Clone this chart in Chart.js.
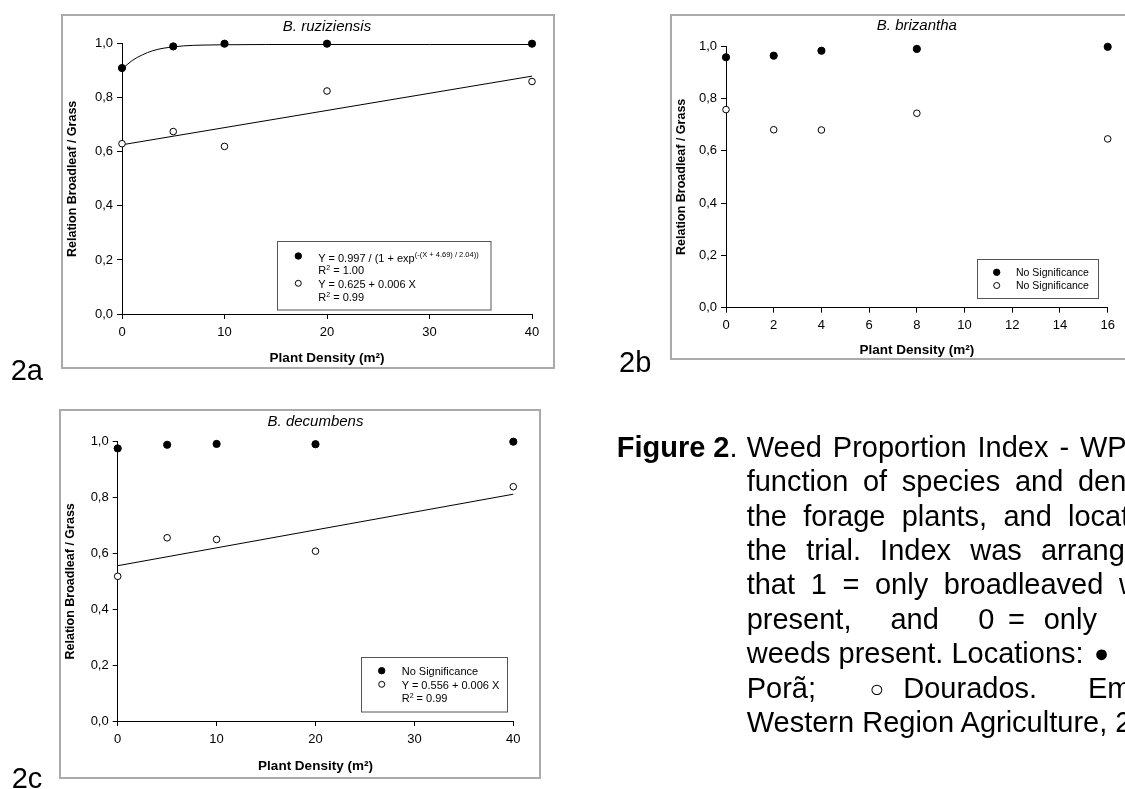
<!DOCTYPE html>
<html>
<head>
<meta charset="utf-8">
<title>Figure 2 – Weed Proportion Index</title>
<script src="https://cdn.jsdelivr.net/npm/chart.js@4/dist/chart.umd.min.js"></script>
<style>
  html, body { margin:0; padding:0; background:#fff; }
  body { width:1125px; height:789px; overflow:hidden; position:relative; font-family:"Liberation Sans", Arial, sans-serif; }
  .panel { position:absolute; box-sizing:border-box; border:2px solid #aaaaaa; background:#fff; z-index:1; }
  .panel canvas { position:absolute; left:0; top:0; }
  #overlay { position:absolute; left:0; top:0; pointer-events:none; z-index:2; }
</style>
</head>
<body>
<svg id="overlay" width="1125" height="789" xmlns="http://www.w3.org/2000/svg"></svg>
<script>
// ---------------- DATA ----------------
const yTicks = [0, 0.2, 0.4, 0.6, 0.8, 1.0];
const yAxisTitle = 'Relation Broadleaf / Grass';
const xAxisTitle = 'Plant Density (m\u00B2)';

// 2a – B. ruziziensis
const ruzTitle = 'B. ruziziensis';
const ruzXTicks = [0, 10, 20, 30, 40];
const ruzDensity = [0, 5, 10, 20, 40];
const ruzPontaPora = [0.91, 0.99, 1.00, 1.00, 1.00];
const ruzDourados = [0.63, 0.675, 0.62, 0.825, 0.86];
const ruzCurveX = [0, 1, 2, 3, 4, 5, 6, 8, 10, 14, 20, 30, 40];
const ruzCurveY = [0.906, 0.938, 0.959, 0.974, 0.983, 0.988, 0.992, 0.995, 0.996, 0.997, 0.997, 0.997, 0.997];
const ruzLineX = [0, 40];
const ruzLineY = [0.626, 0.880];

// 2b – B. brizantha
const brizTitle = 'B. brizantha';
const brizXTicks = [0, 2, 4, 6, 8, 10, 12, 14, 16];
const brizDensity = [0, 2, 4, 8, 16];
const brizPontaPora = [0.957, 0.963, 0.982, 0.989, 0.997];
const brizDourados = [0.757, 0.680, 0.679, 0.743, 0.645];

// 2c – B. decumbens
const decTitle = 'B. decumbens';
const decXTicks = [0, 10, 20, 30, 40];
const decDensity = [0, 5, 10, 20, 40];
const decPontaPora = [0.976, 0.989, 0.992, 0.991, 1.00];
const decDourados = [0.518, 0.656, 0.650, 0.608, 0.839];
const decLineX = [0, 40];
const decLineY = [0.556, 0.812];

// ---------------- HELPERS ----------------
const FONT = "'Liberation Sans', Arial, Helvetica, sans-serif";
Chart.defaults.font.family = FONT;
Chart.defaults.color = '#000';

const zip = (xs, ys) => xs.map((x, i) => ({ x: x, y: ys[i] }));

const filledPts = (xs, ys) => ({
  data: zip(xs, ys), showLine: false, pointRadius: 3.6, pointHoverRadius: 3.6,
  pointBackgroundColor: '#000', pointBorderColor: '#000', pointBorderWidth: 1,
  clip: false, order: 0
});
const openPts = (xs, ys) => ({
  data: zip(xs, ys), showLine: false, pointRadius: 3.3, pointHoverRadius: 3.3,
  pointBackgroundColor: '#fff', pointBorderColor: '#000', pointBorderWidth: 1,
  clip: false, order: 0
});
const fitLine = (xs, ys, smooth) => ({
  data: zip(xs, ys), showLine: true, pointRadius: 0, pointHoverRadius: 0,
  borderColor: '#000', borderWidth: 1, backgroundColor: 'transparent',
  cubicInterpolationMode: smooth ? 'monotone' : 'default', tension: 0,
  clip: false, order: 1
});

const panelTitlePlugin = {
  id: 'panelTitle',
  afterDraw(chart, args, opts) {
    const a = chart.chartArea, ctx = chart.ctx;
    ctx.save();
    ctx.font = 'italic 15px ' + FONT;
    ctx.fillStyle = '#000';
    ctx.textAlign = 'center';
    ctx.textBaseline = 'middle';
    ctx.fillText(opts.text, (a.left + a.right) / 2, opts.y);
    ctx.restore();
  }
};

function buildPanel(p) {
  const div = document.createElement('div');
  div.className = 'panel';
  Object.assign(div.style, { left: p.box.l + 'px', top: p.box.t + 'px', width: p.box.w + 'px', height: p.box.h + 'px' });
  const cw = p.box.w - 4, ch = p.box.h - 4;
  const canvas = document.createElement('canvas');
  canvas.width = cw; canvas.height = ch;
  canvas.style.width = cw + 'px'; canvas.style.height = ch + 'px';
  div.appendChild(canvas);
  document.body.appendChild(div);
  const ox = p.box.l + 2, oy = p.box.t + 2;
  const L = p.plot.l - ox, R = p.plot.r - ox, T = p.plot.t - oy, B = p.plot.b - oy;

  new Chart(canvas, {
    type: 'scatter',
    data: { datasets: p.datasets },
    options: {
      responsive: false, maintainAspectRatio: false, devicePixelRatio: 1, animation: false,
      events: [],
      layout: { padding: { left: 0, top: T, right: cw - R, bottom: 0 } },
      plugins: {
        legend: { display: false }, tooltip: { enabled: false },
        panelTitle: { text: p.title, y: p.titleY - oy }
      },
      scales: {
        x: {
          type: 'linear', min: 0, max: p.xTicks[p.xTicks.length - 1],
          afterBuildTicks: s => { s.ticks = p.xTicks.map(v => ({ value: v })); },
          afterFit: s => { s.height = ch - B; },
          ticks: { font: { size: 13 }, color: '#000', padding: p.xPad, maxRotation: 0, autoSkip: false },
          grid: { drawOnChartArea: false, drawTicks: true, tickLength: 5, color: '#000', lineWidth: 1 },
          border: { display: true, color: '#000', width: 1 },
          title: { display: true, text: xAxisTitle, color: '#000', font: { size: 13.5, weight: 'bold' }, padding: { top: 0, bottom: p.xTitlePad } }
        },
        y: {
          type: 'linear', min: 0, max: 1,
          afterBuildTicks: s => { s.ticks = yTicks.map(v => ({ value: v })); },
          afterFit: s => { s.width = L; },
          ticks: { font: { size: 13 }, color: '#000', padding: 4, callback: v => Number(v).toFixed(1).replace('.', ',') },
          grid: { drawOnChartArea: false, drawTicks: true, tickLength: 5, color: '#000', lineWidth: 1 },
          border: { display: true, color: '#000', width: 1 },
          title: { display: true, text: yAxisTitle, color: '#000', font: { size: 12.5, weight: 'bold' }, padding: { top: p.yTitlePad, bottom: 0 } }
        }
      }
    },
    plugins: [panelTitlePlugin]
  });
}

// ---------------- PANELS ----------------
buildPanel({
  box: { l: 61, t: 14, w: 494, h: 355 },
  plot: { l: 122, r: 532, t: 43.7, b: 314 },
  title: ruzTitle, titleY: 26.7, xTicks: ruzXTicks, xPad: 5.9, xTitlePad: 0.6, yTitlePad: 2.5,
  datasets: [
    filledPts(ruzDensity, ruzPontaPora),
    openPts(ruzDensity, ruzDourados),
    fitLine(ruzCurveX, ruzCurveY, true),
    fitLine(ruzLineX, ruzLineY, false)
  ]
});
buildPanel({
  box: { l: 670, t: 14, w: 465, h: 346 },
  plot: { l: 726, r: 1107.7, t: 46, b: 307.7 },
  title: brizTitle, titleY: 25.7, xTicks: brizXTicks, xPad: 4.5, xTitlePad: 0, yTitlePad: 1.9,
  datasets: [
    filledPts(brizDensity, brizPontaPora),
    openPts(brizDensity, brizDourados)
  ]
});
buildPanel({
  box: { l: 59, t: 409, w: 482, h: 370 },
  plot: { l: 117.7, r: 513.3, t: 441.7, b: 721 },
  title: decTitle, titleY: 422.3, xTicks: decXTicks, xPad: 5.5, xTitlePad: 2.9, yTitlePad: 2.2,
  datasets: [
    filledPts(decDensity, decPontaPora),
    openPts(decDensity, decDourados),
    fitLine(decLineX, decLineY, false)
  ]
});

// ---------------- OVERLAY TEXT (legends, labels, caption) ----------------
const SVGNS = 'http://www.w3.org/2000/svg';
const overlay = document.getElementById('overlay');
function el(tag, attrs, parent) {
  const e = document.createElementNS(SVGNS, tag);
  for (const k in attrs) e.setAttribute(k, attrs[k]);
  (parent || overlay).appendChild(e);
  return e;
}
function text(x, y, parts, size, extra) {
  const t = el('text', Object.assign({ x: x, y: y, 'font-family': FONT, 'font-size': size, fill: '#000' }, extra || {}));
  parts.forEach(p => {
    const s = el('tspan', {}, t);
    if (typeof p === 'string') { s.textContent = p; return; }
    s.textContent = p.t;
    if (p.size) s.setAttribute('font-size', p.size);
    if (p.dy) s.setAttribute('dy', p.dy);
    if (p.bold) s.setAttribute('font-weight', 'bold');
  });
  return t;
}
function marker(cx, cy, filled) {
  el('circle', { cx: cx, cy: cy, r: filled ? 3.2 : 3, fill: filled ? '#000' : '#fff', stroke: '#000', 'stroke-width': 1 });
}
function box(x, y, w, h) {
  el('rect', { x: x, y: y, width: w, height: h, fill: '#fff', stroke: '#555', 'stroke-width': 1 });
}

// legend 2a
box(277.5, 241.5, 213.5, 68.5);
marker(298.3, 256, true);
text(318.3, 261.5, ['Y = 0.997 / (1 + exp', { t: '(-(X + 4.69) / 2.04))', size: 7.5, dy: -5 }], 11);
text(318.3, 274.3, ['R', { t: '2', size: 7, dy: -4 }, { t: ' = 1.00', dy: 4 }], 11);
marker(298.3, 283.3, false);
text(318.3, 288.3, ['Y = 0.625 + 0.006 X'], 11);
text(318.3, 300.7, ['R', { t: '2', size: 7, dy: -4 }, { t: ' = 0.99', dy: 4 }], 11);

// legend 2b
box(977.5, 259.5, 121, 39);
marker(996.7, 272.3, true);
text(1016, 276, ['No Significance'], 10.5);
marker(996.7, 285.5, false);
text(1016, 289.4, ['No Significance'], 10.5);

// legend 2c
box(361.5, 657.5, 146, 54.5);
marker(381.7, 670.7, true);
text(401.7, 675, ['No Significance'], 11);
marker(381.7, 684.3, false);
text(401.7, 689, ['Y = 0.556 + 0.006 X'], 11);
text(401.7, 702.3, ['R', { t: '2', size: 7, dy: -4 }, { t: ' = 0.99', dy: 4 }], 11);

// panel labels
text(10.7, 380, ['2a'], 29);
text(619, 372, ['2b'], 29);
text(11.7, 788, ['2c'], 29);

// caption
const mctx = document.createElement('canvas').getContext('2d');
const CAP_SIZE = 29;
function measure(str) { mctx.font = CAP_SIZE + 'px ' + FONT; return mctx.measureText(str).width; }
function capSegment(x, y, str, anchor, size) {
  const t = text(x, y, [str], size || CAP_SIZE);
  if (anchor) {
    const words = str.split(' ');
    const prefix = words.slice(0, anchor[0]).join(' ') + ' ';
    const ws = (anchor[1] - x - measure(prefix)) / anchor[0];
    t.setAttribute('style', 'word-spacing:' + ws.toFixed(2) + 'px');
  }
}
const capBase = 456.7, capStep = 34.4;
text(616.7, capBase, [{ t: 'Figure 2', bold: true }, '.'], CAP_SIZE);
capSegment(746.7, capBase, 'Weed Proportion Index - WPI as a', [4, 1080]);
capSegment(746.7, capBase + capStep, 'function of species and density of', [4, 1078]);
capSegment(746.7, capBase + 2 * capStep, 'the forage plants, and location of', [4, 1068]);
capSegment(746.7, capBase + 3 * capStep, 'the trial. Index was arranged so', [4, 1041]);
capSegment(746.7, capBase + 4 * capStep, 'that 1 = only broadleaved weeds', [5, 1119]);
[[746.7, 'present,'], [890.4, 'and'], [978.3, '0'], [1008, '='], [1043.7, 'only']].forEach(w => capSegment(w[0], capBase + 5 * capStep, w[1]));
capSegment(746.7, capBase + 6 * capStep, 'weeds present. Locations:');
capSegment(1094, capBase + 6 * capStep - 1, '\u25CF', null, 25);
capSegment(746.7, capBase + 7 * capStep, 'Por\u00E3;');
capSegment(869.5, capBase + 7 * capStep - 1, '\u25CB', null, 24);
capSegment(903.3, capBase + 7 * capStep, 'Dourados.');
capSegment(1088, capBase + 7 * capStep, 'Embrapa');
capSegment(746.7, capBase + 8 * capStep, 'Western Region Agriculture, 2005.');
</script>
</body>
</html>
